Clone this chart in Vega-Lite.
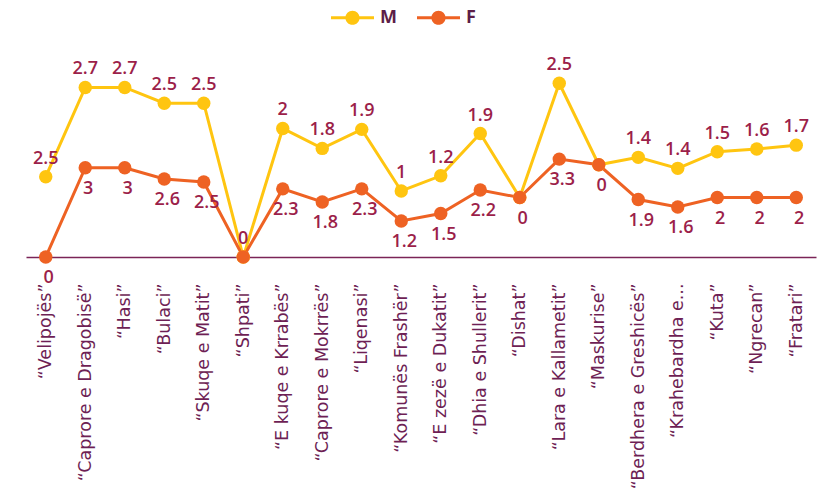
{
  "$schema": "https://vega.github.io/schema/vega-lite/v6.json",
  "width": 790,
  "height": 238,
  "autosize": {"type": "none"},
  "padding": {"left": 26, "top": 19, "right": 6, "bottom": 234},
  "background": "white",
  "data": {"values": [
    {"place": "“Velipojës”", "series": "M", "value": 2.7, "label": "2.5"},
    {"place": "“Velipojës”", "series": "F", "value": 0, "label": "0"},
    {"place": "“Caprore e Dragobisë”", "series": "M", "value": 2.7, "label": "2.7"},
    {"place": "“Caprore e Dragobisë”", "series": "F", "value": 3, "label": "3"},
    {"place": "“Hasi”", "series": "M", "value": 2.7, "label": "2.7"},
    {"place": "“Hasi”", "series": "F", "value": 3, "label": "3"},
    {"place": "“Bulaci”", "series": "M", "value": 2.55, "label": "2.5"},
    {"place": "“Bulaci”", "series": "F", "value": 2.62, "label": "2.6"},
    {"place": "“Skuqe e Matit”", "series": "M", "value": 2.65, "label": "2.5"},
    {"place": "“Skuqe e Matit”", "series": "F", "value": 2.52, "label": "2.5"},
    {"place": "“Shpati”", "series": "M", "value": 0, "label": "0"},
    {"place": "“Shpati”", "series": "F", "value": 0, "label": ""},
    {"place": "“E kuqe e Krrabës”", "series": "M", "value": 2.03, "label": "2"},
    {"place": "“E kuqe e Krrabës”", "series": "F", "value": 2.29, "label": "2.3"},
    {"place": "“Caprore e Mokrrës”", "series": "M", "value": 1.8, "label": "1.8"},
    {"place": "“Caprore e Mokrrës”", "series": "F", "value": 1.85, "label": "1.8"},
    {"place": "“Liqenasi”", "series": "M", "value": 2.0, "label": "1.9"},
    {"place": "“Liqenasi”", "series": "F", "value": 2.29, "label": "2.3"},
    {"place": "“Komunës Frashër”", "series": "M", "value": 1.01, "label": "1"},
    {"place": "“Komunës Frashër”", "series": "F", "value": 1.21, "label": "1.2"},
    {"place": "“E zezë e Dukatit”", "series": "M", "value": 1.27, "label": "1.2"},
    {"place": "“E zezë e Dukatit”", "series": "F", "value": 1.46, "label": "1.5"},
    {"place": "“Dhia e Shullerit”", "series": "M", "value": 1.9, "label": "1.9"},
    {"place": "“Dhia e Shullerit”", "series": "F", "value": 2.25, "label": "2.2"},
    {"place": "“Dishat”", "series": "M", "value": 0, "label": ""},
    {"place": "“Dishat”", "series": "F", "value": 2.0, "label": "0"},
    {"place": "“Lara e Kallametit”", "series": "M", "value": 2.55, "label": "2.5"},
    {"place": "“Lara e Kallametit”", "series": "F", "value": 3.29, "label": "3.3"},
    {"place": "“Maskurise”", "series": "M", "value": 0, "label": ""},
    {"place": "“Maskurise”", "series": "F", "value": 3.1, "label": "0"},
    {"place": "“Berdhera e Greshicës”", "series": "M", "value": 1.42, "label": "1.4"},
    {"place": "“Berdhera e Greshicës”", "series": "F", "value": 1.93, "label": "1.9"},
    {"place": "“Krahebardha e...", "series": "M", "value": 1.3, "label": "1.4"},
    {"place": "“Krahebardha e...", "series": "F", "value": 1.68, "label": "1.6"},
    {"place": "“Kuta”", "series": "M", "value": 1.54, "label": "1.5"},
    {"place": "“Kuta”", "series": "F", "value": 2.0, "label": "2"},
    {"place": "“Ngrecan”", "series": "M", "value": 1.63, "label": "1.6"},
    {"place": "“Ngrecan”", "series": "F", "value": 2.0, "label": "2"},
    {"place": "“Fratari”", "series": "M", "value": 1.76, "label": "1.7"},
    {"place": "“Fratari”", "series": "F", "value": 2.0, "label": "2"}
  ]},
  "transform": [
    {"stack": "value", "groupby": ["place"], "sort": [{"field": "series", "order": "ascending"}], "as": ["y0", "y1"]}
  ],
  "encoding": {
    "x": {
      "field": "place", "type": "nominal", "sort": null,
      "scale": {"type": "point", "padding": 0.5},
      "axis": {
        "title": null, "labelAngle": -90, "labelAlign": "right", "labelBaseline": "middle",
        "labelPadding": 26, "ticks": false, "grid": false,
        "domainColor": "#7B2457", "domainWidth": 1.5,
        "labelColor": "#6E1F55", "labelFontSize": 17.5, "labelFont": "DejaVu Sans",
        "labelLimit": 300
      }
    },
    "y": {
      "field": "y1", "type": "quantitative",
      "scale": {"domain": [0, 8], "nice": false},
      "axis": null
    }
  },
  "layer": [
    {
      "mark": {"type": "line", "strokeWidth": 3},
      "encoding": {
        "color": {
          "field": "series", "type": "nominal",
          "scale": {"domain": ["M", "F"], "range": ["#FFC510", "#EE6223"]}
        }
      }
    },
    {
      "mark": {"type": "point", "filled": true, "size": 180, "opacity": 1},
      "encoding": {
        "color": {
          "field": "series", "type": "nominal",
          "scale": {"domain": ["M", "F"], "range": ["#FFC510", "#EE6223"]}
        }
      }
    },
    {
      "transform": [{"filter": "datum.series === 'M'"}],
      "mark": {"type": "text", "dy": -18, "fontSize": 18, "fontWeight": 600, "color": "#9C1F4A", "font": "Open Sans"},
      "encoding": {"text": {"field": "label"}}
    },
    {
      "transform": [{"filter": "datum.series === 'F'"}],
      "mark": {"type": "text", "dy": 21, "dx": 3, "fontSize": 18, "fontWeight": 600, "color": "#9C1F4A", "font": "Open Sans"},
      "encoding": {"text": {"field": "label"}}
    }
  ],
  "resolve": {"legend": {"color": "shared"}},
  "config": {
    "view": {"stroke": null},
    "font": "Open Sans",
    "legend": {
      "title": null, "orient": "none", "direction": "horizontal",
      "legendX": 305, "legendY": -23,
      "symbolType": "M-1,-0.07H-0.3V0.07H-1Z M0.3,-0.07H1V0.07H0.3Z M0.33,0A0.33,0.33,0,1,1,-0.33,0A0.33,0.33,0,1,1,0.33,0Z",
      "symbolSize": 1849, "symbolStrokeWidth": 0, "symbolOpacity": 1,
      "labelFontSize": 18, "labelFontWeight": "bold", "labelColor": "#5C1E48",
      "labelFont": "Open Sans", "labelOffset": 6, "columnPadding": 20
    }
  }
}
